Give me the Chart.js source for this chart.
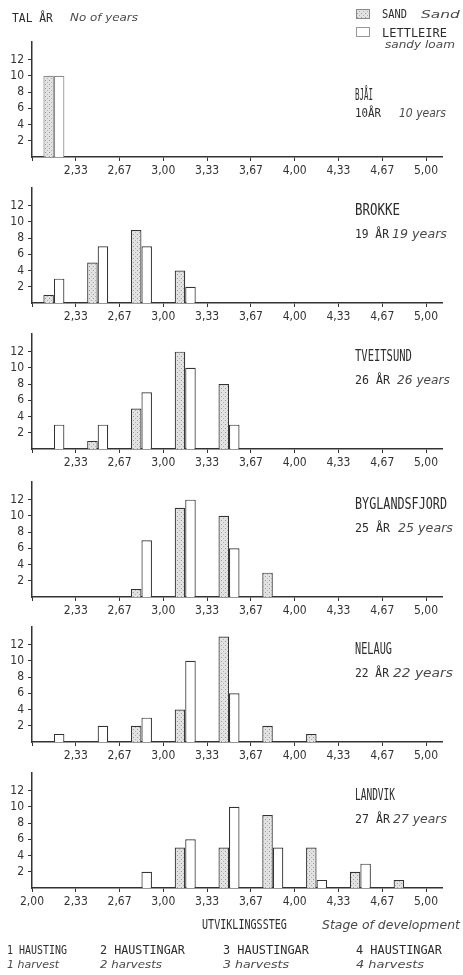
<!DOCTYPE html>
<html>
<head>
<meta charset="utf-8">
<script src="https://cdn.jsdelivr.net/npm/chart.js@4/dist/chart.umd.min.js"></script>
<style>
  html, body { margin: 0; padding: 0; background: #fff; }
  #page { position: relative; width: 463px; height: 975px; overflow: hidden; }
  .panel { position: absolute; left: 0; width: 463px; height: 152px; }
  #labels { position: absolute; left: 0; top: 0; width: 463px; height: 975px; pointer-events: none; }
  #labels text { font-family: "DejaVu Sans Mono", "Liberation Mono", monospace; fill: #2c2c2c; }
  #labels text.hand { font-family: "DejaVu Sans", sans-serif; font-style: italic; fill: #4a4a4a; }
</style>
</head>
<body>
<div id="page">
  <svg id="labels" xmlns="http://www.w3.org/2000/svg" width="463" height="975">
    <defs>
      <pattern id="dots" width="4" height="4" patternUnits="userSpaceOnUse">
        <rect width="4" height="4" fill="#e2e2e2"/>
        <rect x="1" y="1" width="1" height="1" fill="#9a9a9a"/>
        <rect x="3" y="3" width="1" height="1" fill="#b0b0b0"/>
      </pattern>
    </defs>
  </svg>
</div>
<script>
// Stage-of-development classes (boundaries of the 9 intervals on the x axis)
const stageTickLabels = ['2,00', '2,33', '2,67', '3,00', '3,33', '3,67', '4,00', '4,33', '4,67', '5,00'];
// Number-of-years ticks on each y axis
const yearTicks = [2, 4, 6, 8, 10, 12];

// Stations and observation periods
const stations = ['BJÅI', 'BROKKE', 'TVEITSUND', 'BYGLANDSFJORD', 'NELAUG', 'LANDVIK'];
const periodsNo = ['10ÅR', '19 ÅR', '26 ÅR', '25 ÅR', '22 ÅR', '27 ÅR'];
const periodsEn = ['10 years', '19 years', '26 years', '25 years', '22 years', '27 years'];

// Years per stage interval (2,00–2,33 ... 4,67–5,00) on sand and on sandy loam
const bjaiSand      = [10, 0, 0, 0, 0, 0, 0, 0, 0];
const bjaiLoam      = [10, 0, 0, 0, 0, 0, 0, 0, 0];
const brokkeSand    = [1, 5, 9, 4, 0, 0, 0, 0, 0];
const brokkeLoam    = [3, 7, 7, 2, 0, 0, 0, 0, 0];
const tveitsundSand = [0, 1, 5, 12, 8, 0, 0, 0, 0];
const tveitsundLoam = [3, 3, 7, 10, 3, 0, 0, 0, 0];
const byglandSand   = [0, 0, 1, 11, 10, 3, 0, 0, 0];
const byglandLoam   = [0, 0, 7, 12, 6, 0, 0, 0, 0];
const nelaugSand    = [0, 0, 2, 4, 13, 2, 1, 0, 0];
const nelaugLoam    = [1, 2, 3, 10, 6, 0, 0, 0, 0];
const landvikSand   = [0, 0, 0, 5, 5, 9, 5, 2, 1];
const landvikLoam   = [0, 0, 2, 6, 10, 5, 1, 3, 0];

const sandSeries = [bjaiSand, brokkeSand, tveitsundSand, byglandSand, nelaugSand, landvikSand];
const loamSeries = [bjaiLoam, brokkeLoam, tveitsundLoam, byglandLoam, nelaugLoam, landvikLoam];

// Harvest-count captions under the x axis title
const harvestNo = ['1 HAUSTING', '2 HAUSTINGAR', '3 HAUSTINGAR', '4 HAUSTINGAR'];
const harvestEn = ['1 harvest', '2 harvests', '3 harvests', '4 harvests'];

// ---- layout ----
const ink = '#333333';
const tickFont = { family: '"Liberation Sans Narrow", "DejaVu Sans Condensed", sans-serif', size: 12 };
const panelBaselines = [157, 303, 449, 597, 742, 888];
const plotTopPad = 2, plotHeight = 124, xAxisHeight = 26;

function stipplePattern() {
  const c = document.createElement('canvas');
  c.width = 4; c.height = 4;
  const g = c.getContext('2d');
  g.fillStyle = '#e2e2e2'; g.fillRect(0, 0, 4, 4);
  g.fillStyle = '#9a9a9a'; g.fillRect(1, 1, 1, 1);
  g.fillStyle = '#b0b0b0'; g.fillRect(3, 3, 1, 1);
  return g.createPattern(c, 'repeat');
}
const sandFill = stipplePattern();

const page = document.getElementById('page');

stations.forEach((name, p) => {
  const box = document.createElement('div');
  box.className = 'panel';
  box.style.top = (panelBaselines[p] - plotTopPad - plotHeight) + 'px';
  const canvas = document.createElement('canvas');
  canvas.width = 463; canvas.height = plotTopPad + plotHeight + xAxisHeight;
  box.appendChild(canvas);
  page.insertBefore(box, document.getElementById('labels'));

  const edge = p === 0 ? '#8c8c8c' : ink;
  const toPoints = arr => arr.map((v, i) => ({ x: i + 0.5, y: v }));
  const showFirstTick = p === stations.length - 1;

  new Chart(canvas, {
    type: 'bar',
    data: {
      datasets: [
        { label: 'SAND', data: toPoints(sandSeries[p]), backgroundColor: sandFill,
          borderColor: edge, borderWidth: 1.2, categoryPercentage: 0.48, barPercentage: 1 },
        { label: 'LETTLEIRE', data: toPoints(loamSeries[p]), backgroundColor: '#ffffff',
          borderColor: edge, borderWidth: 1.2, categoryPercentage: 0.48, barPercentage: 1 }
      ]
    },
    options: {
      responsive: false,
      animation: false,
      devicePixelRatio: 1,
      layout: { padding: { top: plotTopPad, right: 21, left: 0, bottom: 0 } },
      plugins: { legend: { display: false }, tooltip: { enabled: false } },
      scales: {
        x: {
          type: 'linear', min: 0, max: 9.365, offset: false,
          afterBuildTicks: s => { s.ticks = stageTickLabels.map((_, i) => ({ value: i })); },
          afterFit: s => { s.height = xAxisHeight; },
          ticks: {
            autoSkip: false, maxRotation: 0, padding: 3, color: ink, font: tickFont,
            callback: v => (v === 0 && !showFirstTick) ? '' : stageTickLabels[v]
          },
          grid: { offset: false, drawOnChartArea: false, tickLength: 4, color: ink, lineWidth: 1 },
          border: { color: ink, width: 1.5 }
        },
        y: {
          min: 0, max: 14.15,
          afterBuildTicks: s => { s.ticks = yearTicks.map(v => ({ value: v })); },
          afterFit: s => { s.width = 32; },
          ticks: { padding: 4, color: ink, font: tickFont, callback: v => String(v) },
          grid: { drawOnChartArea: false, tickLength: 4, color: ink, lineWidth: 1 },
          border: { color: ink, width: 1.5 }
        }
      }
    }
  });
});

// ---- text and legend overlay ----
const svg = document.getElementById('labels');
const NS = 'http://www.w3.org/2000/svg';
// Places a text at (x, y) and squeezes/stretches it horizontally to the given width
function addText(str, x, y, size, len, hand) {
  const t = document.createElementNS(NS, 'text');
  t.setAttribute('x', 0); t.setAttribute('y', 0);
  t.setAttribute('font-size', size);
  if (hand) t.setAttribute('class', 'hand');
  t.textContent = str;
  svg.appendChild(t);
  const natural = t.getComputedTextLength() || len;
  const sx = len ? len / natural : 1;
  t.setAttribute('transform', `translate(${x},${y}) scale(${sx.toFixed(3)},1)`);
}
function addBox(x, y, w, h, fill, stroke) {
  const r = document.createElementNS(NS, 'rect');
  r.setAttribute('x', x); r.setAttribute('y', y);
  r.setAttribute('width', w); r.setAttribute('height', h);
  r.setAttribute('fill', fill); r.setAttribute('stroke', stroke); r.setAttribute('stroke-width', 1);
  svg.appendChild(r);
}

// axis caption
addText('TAL ÅR', 12, 22, 13, 41);
addText('No of years', 70, 21, 11, 68, true);

// legend
addBox(356.5, 9.5, 13, 9, 'url(#dots)', '#888');
addText('SAND', 382, 18, 12, 25);
addText('Sand', 421, 18, 11, 39, true);
addBox(356.5, 27.5, 13, 9, '#fff', '#999');
addText('LETTLEIRE', 382, 37, 12, 65);
addText('sandy loam', 385, 48, 11, 70, true);

// station titles
const titleWidths = [18, 45, 57, 92, 37, 40];
const periodWidths = [26, 34, 35, 35, 34, 35];
const enStart = [399, 392, 397, 398, 393, 393];
const enWidths = [47, 55, 53, 55, 60, 54];
stations.forEach((name, p) => {
  const b = panelBaselines[p];
  const tY = p === 0 ? b - 57 : b - 88;
  const sY = p === 0 ? b - 40 : b - 65;
  addText(name, 355, tY, 15, titleWidths[p]);
  addText(periodsNo[p], 355, sY, 13, periodWidths[p]);
  addText(periodsEn[p], enStart[p], sY, 12, enWidths[p], true);
});

// x axis title and harvest captions
addText('UTVIKLINGSSTEG', 202, 929, 14, 85);
addText('Stage of development', 322, 929, 12, 138, true);
const capX = [7, 100, 223, 356];
const capW = [60, 85, 86, 86];
const capEnW = [52, 62, 66, 68];
harvestNo.forEach((s, i) => addText(s, capX[i], 954, 13, capW[i]));
harvestEn.forEach((s, i) => addText(s, capX[i], 968, 11, capEnW[i], true));
</script>
</body>
</html>
